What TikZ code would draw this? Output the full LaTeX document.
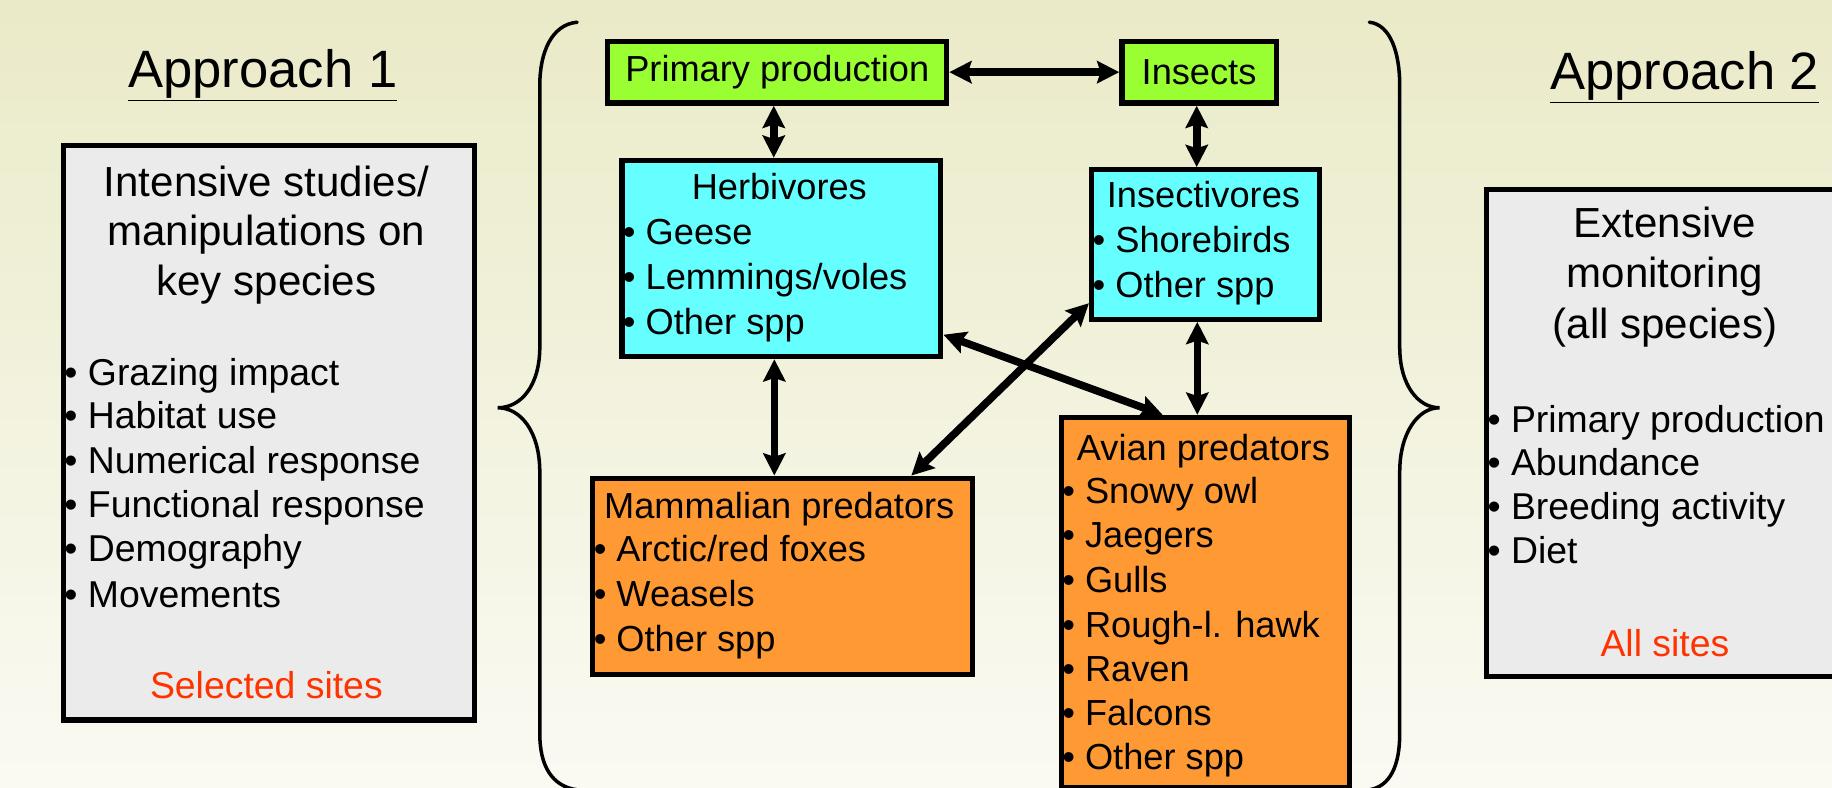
\documentclass[tikz,border=0pt]{standalone}
\usepackage{fontspec}
\setmainfont{Liberation Sans}
\usetikzlibrary{arrows.meta,calc}
\definecolor{bgtop}{RGB}{234,234,200}
\definecolor{bgbot}{RGB}{250,250,243}
\definecolor{limebox}{RGB}{153,255,51}
\definecolor{cyanbox}{RGB}{102,255,255}
\definecolor{orangebox}{RGB}{255,153,51}
\definecolor{greybox}{RGB}{235,235,235}
\definecolor{redtxt}{RGB}{255,51,0}
\begin{document}
\begin{tikzpicture}[x=1pt,y=-1pt,
  box/.style={draw=black,line width=4.5pt,inner sep=0pt,anchor=north west},
  arr/.style={line width=6.5pt,{Stealth[length=19pt,width=19pt,inset=3pt]}-{Stealth[length=19pt,width=19pt,inset=3pt]}},
  brace/.style={line width=3pt,line cap=round},
  ttl/.style={inner sep=0pt,anchor=base,font=\fontsize{45}{54}\selectfont},
  hd/.style={inner sep=0pt,anchor=base,font=\fontsize{36}{42}\selectfont},
  bl/.style={inner sep=0pt,anchor=base west,font=\fontsize{32}{38}\selectfont},
  ct/.style={inner sep=0pt,anchor=base,font=\fontsize{31}{38}\selectfont},
  cb/.style={inner sep=0pt,anchor=base west,font=\fontsize{31}{38}\selectfont},
  red/.style={inner sep=0pt,anchor=base,font=\fontsize{32}{38}\selectfont,text=redtxt}
]
\shade[top color=bgtop,bottom color=bgbot] (0,0) rectangle (1568,674);
\useasboundingbox (0,0) rectangle (1568,674);

% Titles
\node[ttl] (ap1) at (225,75) {\underline{Approach 1}};
\node[ttl] (ap2) at (1442,77) {\underline{Approach 2}};

% Left box
\node[box,fill=greybox,minimum width=352,minimum height=492] (lbox) at (52,122) {};
\node[hd] (l1) at (228,168) {Intensive studies/};
\node[hd] (l2) at (228,210) {manipulations on};
\node[hd] (l3) at (228,253) {key species};
\node[bl] (lb1) at (55,330) {• Grazing impact};
\node[bl] (lb2) at (55,367) {• Habitat use};
\node[bl] (lb3) at (55,405) {• Numerical response};
\node[bl] (lb4) at (55,443) {• Functional response};
\node[bl] (lb5) at (55,481) {• Demography};
\node[bl] (lb6) at (55,520) {• Movements};
\node[red] (lsel) at (228,598) {Selected sites};

% Right box
\node[box,fill=greybox,minimum width=320,minimum height=417] (rbox) at (1270,160) {};
\node[hd] (r1) at (1425,203) {Extensive};
\node[hd] (r2) at (1425,246) {monitoring};
\node[hd] (r3) at (1425,290) {(all species)};
\node[bl] (rb1) at (1273,370) {• Primary production};
\node[bl] (rb2) at (1273,407) {• Abundance};
\node[bl] (rb3) at (1273,445) {• Breeding activity};
\node[bl] (rb4) at (1273,482) {• Diet};
\node[red] (rall) at (1425,562) {All sites};

% Braces
\draw[brace] (494,19) .. controls (472,21) and (462,45) .. (462,73) -- (462,297)
  .. controls (462,330) and (446,349) .. (426,349)
  .. controls (446,349) and (462,370) .. (462,404) -- (462,628)
  .. controls (462,655) and (472,673) .. (494,676);
\draw[brace] (1172,19) .. controls (1190,21) and (1198,45) .. (1198,73) -- (1198,297)
  .. controls (1198,330) and (1214,349) .. (1232,349)
  .. controls (1214,349) and (1198,370) .. (1198,404) -- (1198,628)
  .. controls (1198,655) and (1190,673) .. (1172,676);

% Centre boxes
\node[box,fill=limebox,minimum width=290,minimum height=53,font=\fontsize{31}{38}\selectfont] (pp) at (518,33) {Primary production};
\node[box,fill=limebox,minimum width=132,minimum height=53,font=\fontsize{31}{38}\selectfont] (ins) at (958,33) {Insects};
\node[box,fill=cyanbox,minimum width=273,minimum height=168] (herb) at (530,135) {};
\node[box,fill=cyanbox,minimum width=195,minimum height=128] (insv) at (932,143) {};
\node[box,fill=orangebox,minimum width=325,minimum height=168] (mam) at (505,407) {};
\node[box,fill=orangebox,minimum width=247,minimum height=317] (avi) at (906,355) {};

\node[ct] (h0) at (667,171) {Herbivores};
\node[cb] (h1) at (533,209) {• Geese};
\node[cb] (h2) at (533,248) {• Lemmings/voles};
\node[cb] (h3) at (533,286) {• Other spp};

\node[ct] (i0) at (1030,178) {Insectivores};
\node[cb] (i1) at (935,216) {• Shorebirds};
\node[cb] (i2) at (935,255) {• Other spp};

\node[ct] (m0) at (667,444) {Mammalian predators};
\node[cb] (m1) at (508,481) {• Arctic/red foxes};
\node[cb] (m2) at (508,519) {• Weasels};
\node[cb] (m3) at (508,558) {• Other spp};

\node[ct] (a0) at (1030,394) {Avian predators};
\node[cb] (a1) at (909,431) {• Snowy owl};
\node[cb] (a2) at (909,469) {• Jaegers};
\node[cb] (a3) at (909,507) {• Gulls};
\node[cb] (a4) at (909,546) {• Rough-l. hawk};
\node[cb] (a5) at (909,583) {• Raven};
\node[cb] (a6) at (909,621) {• Falcons};
\node[cb] (a7) at (909,659) {• Other spp};

% Connectors
\draw[arr] (pp.east) -- (ins.west);
\draw[arr] ([xshift=-3pt]pp.south) -- ([xshift=-3pt]pp.south |- herb.north);
\draw[arr] ([xshift=-2pt]ins.south) -- ([xshift=-2pt]ins.south |- insv.north);
\draw[arr] ([xshift=-6pt]herb.south) -- ([xshift=-6pt]herb.south |- mam.north);
\draw[arr] ([xshift=-7pt]insv.south) -- ([xshift=-7pt]insv.south |- avi.north);
\draw[arr] ([yshift=21pt]herb.south east) -- ([xshift=89pt]avi.north west);
\draw[arr] ([yshift=16pt]insv.south west) -- ([xshift=275pt]mam.north west);
\end{tikzpicture}
\end{document}
